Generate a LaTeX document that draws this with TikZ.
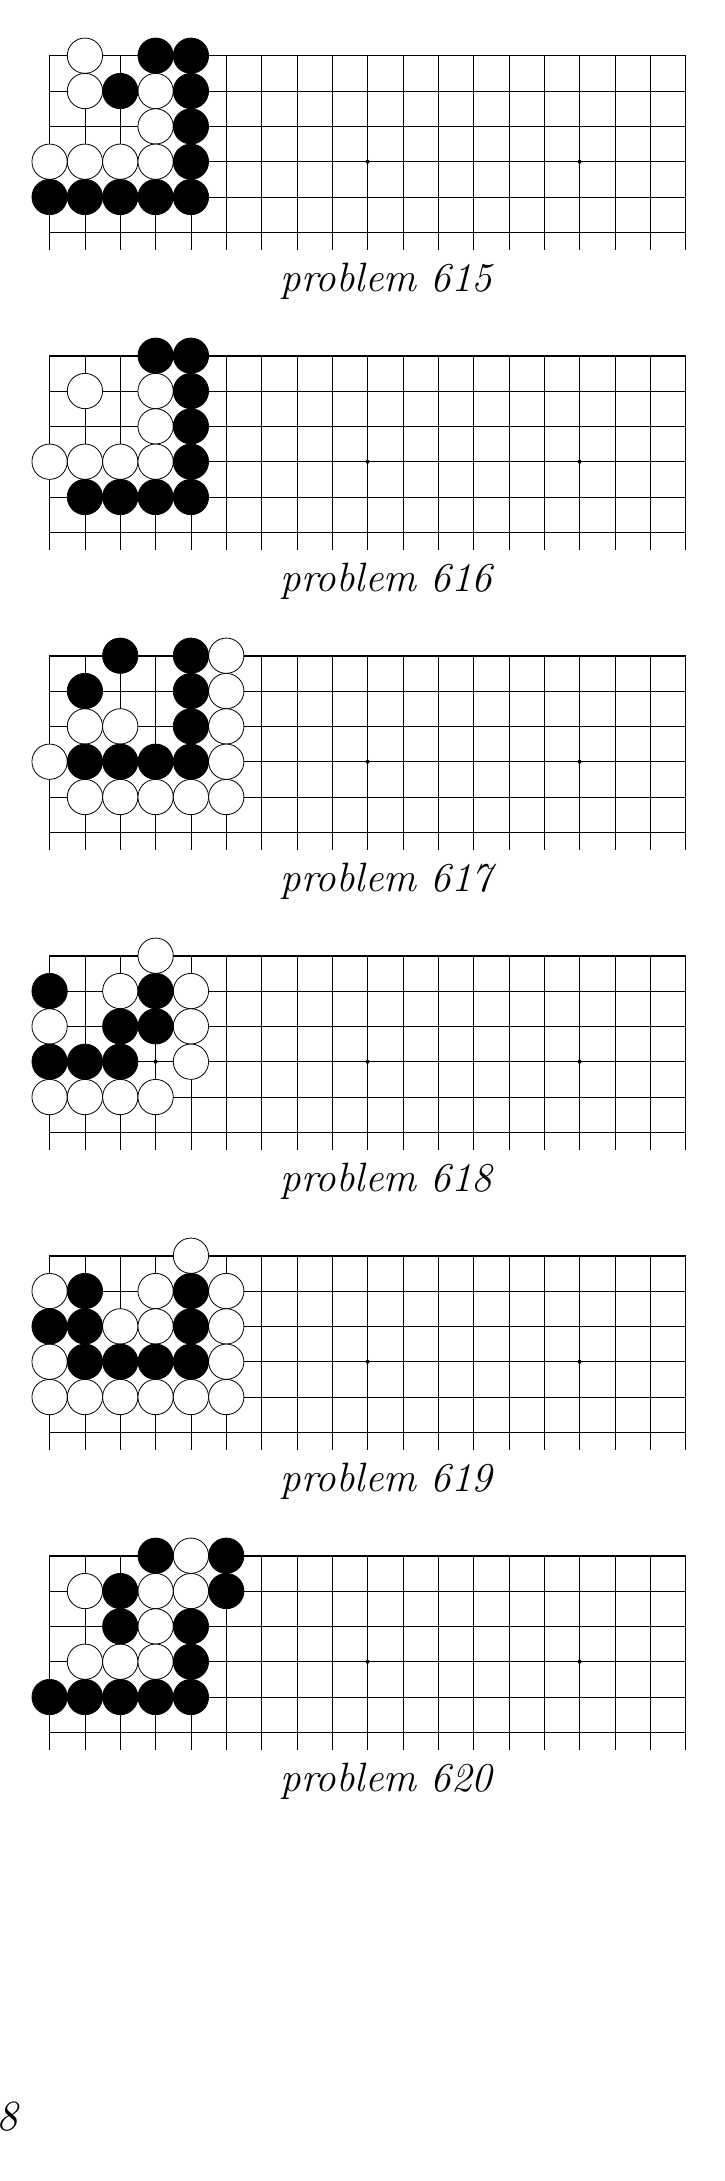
\documentclass[tikz,border=0pt]{standalone}
\tikzset{
  gridline/.style={line width=0.8pt, black},
  edgeline/.style={line width=1.6pt, black},
  sideline/.style={line width=1.3pt, black},
  wst/.style={circle, draw=black, fill=white, line width=0.8pt, minimum size=35.3pt, inner sep=0pt},
  bst/.style={circle, draw=black, fill=black, line width=0.8pt, minimum size=35.3pt, inner sep=0pt},
  hoshi/.style={circle, fill=black, minimum size=4pt, inner sep=0pt},
  probtext/.style={anchor=base, inner sep=0pt, font=\itshape\fontsize{41}{49}\selectfont}
}
\newcommand{\goboard}[4]{%
  \begin{scope}[shift={(0,#1)}]
    \foreach \c in {1,...,17}
      \draw[gridline] ({49.6+\c*35.333},0) -- ({49.6+\c*35.333},194.3);
    \foreach \r in {1,...,5}
      \draw[gridline] (49.6,{\r*35.333}) -- (685.6,{\r*35.333});
    \draw[sideline] (49.6,0) -- (49.6,194.3);
    \draw[sideline] (685.6,0) -- (685.6,194.3);
    \draw[edgeline] (48.95,0) -- (686.25,0);
    \foreach \c in {3,9,15}
      \node[hoshi] (h#2-\c) at ({49.6+\c*35.333},{3*35.333}) {};
    \foreach \c/\r in {#3}
      \node[wst] (w#2-\c-\r) at ({49.6+\c*35.333},{\r*35.333}) {};
    \foreach \c/\r in {#4}
      \node[bst] (b#2-\c-\r) at ({49.6+\c*35.333},{\r*35.333}) {};
    \node[probtext] (lab#2) at (386.4,235.3) {problem #2};
  \end{scope}}
\begin{document}
\begin{tikzpicture}[x=1pt,y=-1pt]
  \useasboundingbox (0,0) rectangle (725,2181);
  \goboard{55.7}{615}{1/0,1/1,3/1,3/2,0/3,1/3,2/3,3/3}{3/0,4/0,2/1,4/1,4/2,4/3,0/4,1/4,2/4,3/4,4/4}
  \goboard{355.7}{616}{1/1,3/1,3/2,0/3,1/3,2/3,3/3}{3/0,4/0,4/1,4/2,4/3,1/4,2/4,3/4,4/4}
  \goboard{655.7}{617}{5/0,5/1,1/2,2/2,5/2,0/3,5/3,1/4,2/4,3/4,4/4,5/4}{2/0,4/0,1/1,4/1,4/2,1/3,2/3,3/3,4/3}
  \goboard{955.7}{618}{3/0,2/1,4/1,0/2,4/2,4/3,0/4,1/4,2/4,3/4}{0/1,3/1,2/2,3/2,0/3,1/3,2/3}
  \goboard{1255.7}{619}{4/0,0/1,3/1,5/1,2/2,3/2,5/2,0/3,5/3,0/4,1/4,2/4,3/4,4/4,5/4}{1/1,4/1,0/2,1/2,4/2,1/3,2/3,3/3,4/3}
  \goboard{1555.7}{620}{4/0,1/1,3/1,4/1,3/2,1/3,2/3,3/3}{3/0,5/0,2/1,5/1,2/2,4/2,4/3,0/4,1/4,2/4,3/4,4/4}
  \node[anchor=base west, inner sep=0pt, font=\itshape\fontsize{43}{51}\selectfont] (pg) at (-4,2130.7) {8};
\end{tikzpicture}
\end{document}
